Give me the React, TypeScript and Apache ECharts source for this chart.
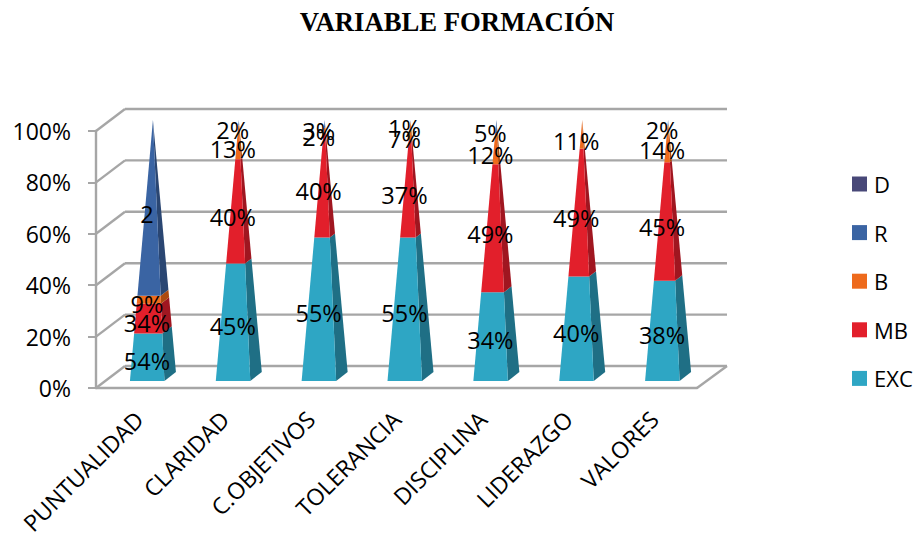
import React, { useEffect, useRef } from "react";
import * as echarts from "echarts";

const categories = ["PUNTUALIDAD", "CLARIDAD", "C.OBJETIVOS", "TOLERANCIA", "DISCIPLINA", "LIDERAZGO", "VALORES"];
const exc = [54, 45, 55, 55, 34, 40, 38];
const mb = [34, 40, 40, 37, 49, 49, 45];
const b = [9, 13, 2, 7, 12, 11, 14];
const r = [200, 2, 3, 1, 5, 0, 2];
const d = [0, 0, 0, 0, 0, 0, 0];
const excLabels = ["54%", "45%", "55%", "55%", "34%", "40%", "38%"];
const mbLabels = ["34%", "40%", "40%", "37%", "49%", "49%", "45%"];
const bLabels = ["9%", "13%", "2%", "7%", "12%", "11%", "14%"];
const rLabels = ["2", "2%", "3%", "1%", "5%", "", "2%"];
const ticks = [0, 20, 40, 60, 80, 100];

const FONT = "Open Sans";
const stacks = [
  { name: "EXC", values: exc, labels: excLabels, color: "#2ea6c4", side: "#1f6f85" },
  { name: "MB", values: mb, labels: mbLabels, color: "#e21f2b", side: "#a01620" },
  { name: "B", values: b, labels: bLabels, color: "#ee6a1c", side: "#ad4a10" },
  { name: "R", values: r, labels: rLabels, color: "#3a64a3", side: "#2a4672" },
  { name: "D", values: d, labels: categories.map(() => ""), color: "#484878", side: "#33335a" },
];

function percentRows() {
  const totals = categories.map((_, i) => stacks.reduce((s, k) => s + k.values[i], 0));
  const acc = categories.map(() => 0);
  return stacks.map((k) =>
    k.values.map((v, i) => {
      const start = (acc[i] / totals[i]) * 100;
      acc[i] += v;
      return [i, start, (acc[i] / totals[i]) * 100];
    })
  );
}

function App() {
  const ref = useRef<HTMLDivElement>(null);
  useEffect(() => {
    const chart = echarts.init(ref.current!, null, { renderer: "svg" });
    const rows = percentRows();
    const lerp = (a: number[], c: number[], t: number) => [a[0] + (c[0] - a[0]) * t, a[1] + (c[1] - a[1]) * t];
    const pyramid = (stack: (typeof stacks)[number]) => (params: any, api: any) => {
      const i = api.value(0);
      const s = api.value(1) / 100;
      const e = api.value(2) / 100;
      if (e - s <= 0) return null;
      const base = api.coord([i, 0]);
      const top = api.coord([i, 100]);
      const cx = base[0] + 14;
      const fl = [cx - 23, base[1] - 7];
      const fr = [cx + 11.5, base[1] - 7];
      const br = [cx + 23, base[1] - 16];
      const apex = [cx, top[1] - 11];
      return {
        type: "group",
        children: [
          {
            type: "polygon",
            shape: { points: [lerp(fr, apex, s), lerp(br, apex, s), lerp(br, apex, e), lerp(fr, apex, e)] },
            style: { fill: stack.side },
          },
          {
            type: "polygon",
            shape: { points: [lerp(fl, apex, s), lerp(fr, apex, s), lerp(fr, apex, e), lerp(fl, apex, e)] },
            style: { fill: stack.color },
          },
        ],
      };
    };
    const wall = (params: any, api: any) => {
      const v = api.value(1);
      const band = api.size([1, 0])[0];
      const p = api.coord([0, v]);
      const left = p[0] - band / 2;
      const y = p[1];
      const line = (x1: number, y1: number, x2: number, y2: number) => ({
        type: "line",
        shape: { x1, y1, x2, y2 },
        style: { stroke: "#a6a6a6", lineWidth: 2.4 },
      });
      const right = left + band * categories.length;
      const children = [line(left, y, left + 29, y - 22), line(left + 29, y - 22, right + 30, y - 22)];
      if (v === 0) children.push(line(right, y, right + 30, y - 22));
      return { type: "group", children };
    };
    const labelRows: { i: number; t: number; text: string }[] = [];
    stacks.forEach((k, si) =>
      k.labels.forEach((text, i) => {
        if (text) labelRows.push({ i, t: (rows[si][i][1] + rows[si][i][2]) / 2, text });
      })
    );
    chart.setOption({
      animation: false,
      title: {
        text: "VARIABLE FORMACIÓN",
        left: 452,
        top: 3,
        textAlign: "center",
        textStyle: { fontFamily: "Liberation Serif", fontWeight: "bold", fontSize: 26.7, color: "#000" },
      },
      legend: {
        orient: "vertical",
        left: 852,
        top: 173,
        padding: 0,
        itemWidth: 15,
        itemHeight: 15,
        itemGap: 26.6,
        icon: "rect",
        data: ["D", "R", "B", "MB", "EXC"],
        textStyle: { fontFamily: FONT, fontSize: 22, color: "#000", padding: [0, 0, 0, 2] },
      },
      grid: { left: 96, top: 131, width: 601, height: 257, containLabel: false },
      xAxis: {
        type: "category",
        data: categories,
        axisLine: { lineStyle: { color: "#a6a6a6", width: 2.4 } },
        axisTick: { length: 8, lineStyle: { color: "#a6a6a6", width: 2 } },
        axisLabel: { rotate: 45, interval: 0, margin: 27, fontFamily: FONT, fontSize: 23, color: "#000" },
      },
      yAxis: {
        type: "value",
        min: 0,
        max: 100,
        interval: 20,
        splitLine: { show: false },
        axisLine: { show: true, lineStyle: { color: "#a6a6a6", width: 2.4 } },
        axisTick: { show: true, length: 8, lineStyle: { color: "#a6a6a6", width: 2 } },
        axisLabel: { margin: 25, formatter: "{value}%", fontFamily: FONT, fontSize: 23, color: "#000" },
      },
      series: [
        {
          type: "custom",
          name: "walls",
          silent: true,
          z: 1,
          renderItem: wall,
          data: ticks.map((t) => [0, t]),
        },
        ...stacks.map((k, si) => ({
          type: "custom",
          name: k.name,
          z: 2,
          itemStyle: { color: k.color },
          renderItem: pyramid(k),
          encode: { x: 0, y: [1, 2] },
          data: rows[si],
        })),
        {
          type: "custom",
          name: "labels",
          silent: true,
          z: 3,
          renderItem: (params: any, api: any) => {
            const row = labelRows[params.dataIndex];
            const p = api.coord([row.i, row.t]);
            return {
              type: "text",
              x: p[0] + 8,
              y: p[1] - 4,
              style: {
                text: row.text,
                fontFamily: FONT,
                fontSize: 23.5,
                fill: "#000",
                align: "center",
                verticalAlign: "middle",
              },
            };
          },
          data: labelRows.map((row) => [row.i, row.t]),
        },
      ],
    });
    return () => chart.dispose();
  }, []);
  return <div ref={ref} style={{ position: "absolute", left: 0, top: 0, width: 921, height: 538 }} />;
}

export default App;
